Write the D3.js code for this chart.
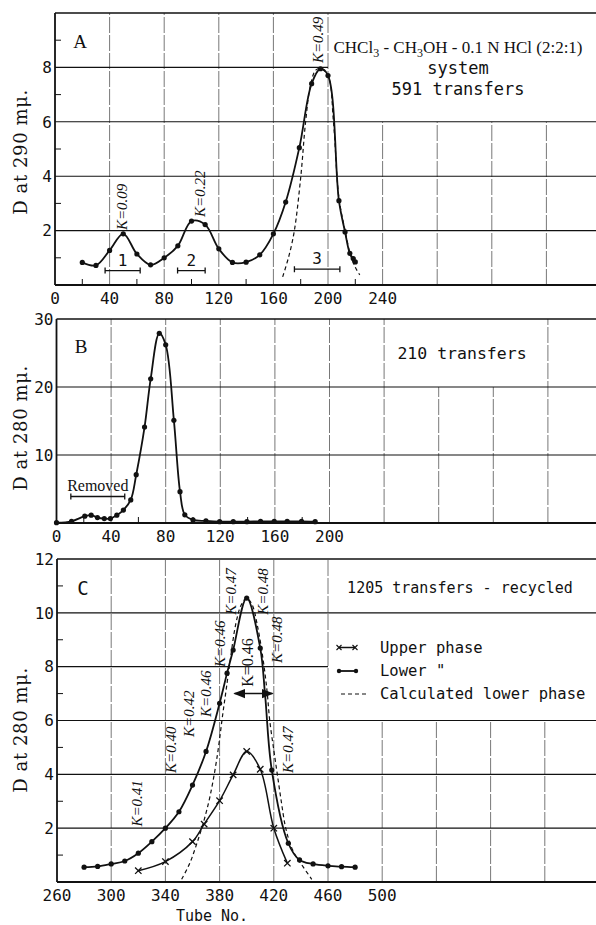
<!DOCTYPE html>
<html>
<head>
<meta charset="utf-8">
<script src="https://cdn.jsdelivr.net/npm/d3@7"></script>
<style>
body { margin: 0; background: #fff; }
text { fill: #111; }
</style>
</head>
<body>
<div id="chart"></div>
<script>
//panel A: lower phase and calculated curve [tube, D]
var aLower = [[20, 0.83], [30, 0.72], [40, 1.27], [50, 1.88], [60, 1.14], [70, 0.74], [80, 1.0], [90, 1.44],
    [100, 2.35], [110, 2.22], [120, 1.33], [130, 0.83], [140, 0.84], [150, 1.11], [160, 1.88], [169, 3.05],
    [179, 5.05], [188, 7.4], [194.5, 7.95], [200, 7.7], [208, 3.1], [212.5, 1.95], [216, 1.16], [218.5, 0.97], [220, 0.85]];
var aCalc = [[166.8, 0.3], [171, 1.0], [175.2, 1.95], [180, 3.95], [183.6, 6.0], [187.2, 7.36], [191, 7.9], [194.5, 7.95],
    [200, 7.7], [204, 6.0], [208, 3.2], [212.5, 2.0], [216.5, 1.1], [220, 0.65], [223.3, 0.37]];
var aBars = [[36.7, 62.4, 0.53, '1'], [89.8, 110, 0.53, '2'], [175.4, 208.7, 0.58, '3']];
var aKLabels = [[48.9, 2.02, 'K=0.09'], [106.2, 2.5, 'K=0.22'], [192.7, 8.16, 'K=0.49']];
var aXTicks = [0, 40, 80, 120, 160, 200, 240];
var aYTicks = [2, 4, 6, 8];

//panel B
var bLower = [[0, 0.05], [11, 0.25], [20.7, 1.0], [25.4, 1.15], [30, 0.8], [35, 0.65], [39.5, 0.65], [44.2, 1.15],
    [49, 1.9], [54.4, 3.4], [58.4, 7.1], [64.5, 14.1], [69, 21.2], [75.3, 27.9], [80, 26.2], [86, 15.1],
    [90.5, 4.6], [94, 1.2], [100, 0.45], [109.5, 0.3], [119.5, 0.2], [129.5, 0.2], [139.5, 0.2], [149.5, 0.25],
    [159.5, 0.25], [169, 0.25], [179.5, 0.25], [189.5, 0.2]];
var bRemoved = [10.5, 50, 3.9, 'Removed'];
var bXTicks = [0, 40, 80, 120, 160, 200];
var bYTicks = [10, 20, 30];

//panel C
var cLower = [[280, 0.55], [290, 0.58], [300, 0.67], [310, 0.78], [320, 1.07], [330, 1.5], [340, 2.0], [350, 2.61],
    [360, 3.6], [370, 4.85], [380, 6.64], [385.5, 7.76], [390, 8.62], [400, 10.55], [410, 8.69], [413.5, 7.0],
    [418.5, 4.16], [430.7, 1.44], [439, 0.82], [449, 0.67], [460, 0.6], [470, 0.57], [480, 0.55]];
var cUpper = [[320, 0.42], [340, 0.76], [360, 1.5], [368.6, 2.15], [380, 3.02], [390, 3.98], [400, 4.85],
    [410, 4.19], [420, 2.0], [430, 0.7]];
var cCalc = [[352, 0.1], [358, 0.7], [363, 1.4], [368, 2.2], [373, 3.2], [378, 4.6], [382.5, 6.3], [385, 7.2],
    [388, 8.3], [392, 9.6], [396, 10.3], [400, 10.55], [404, 10.3], [408, 9.5], [412, 8.3], [415, 7.1], [417, 6.0],
    [420, 4.9], [422.6, 4.0], [425.5, 3.0], [428.8, 2.0], [433, 1.3], [437, 0.9], [441.8, 0.55], [448, 0.1]];
var cKLabels = [[318.8, 2.06, 'K=0.41'], [343.9, 4.05, 'K=0.40'], [357.4, 5.39, 'K=0.42'], [370, 6.13, 'K=0.46'],
    [380.3, 7.99, 'K=0.46'], [388.4, 9.93, 'K=0.47'], [412.3, 9.93, 'K=0.48'], [422.6, 8.14, 'K=0.48'], [430.5, 4.05, 'K=0.47']];
var cArrow = [391, 419, 7.0, 401.2, 'K=0.46'];
var cLegend = ['Upper phase', 'Lower   "', 'Calculated lower phase'];
var cXTicks = [260, 300, 340, 380, 420, 460, 500];
var cYTicks = [2, 4, 6, 8, 10, 12];

var mono = '"DejaVu Sans Mono", "Liberation Mono", monospace',
    serif = '"Liberation Serif", "DejaVu Serif", serif';

//create svg
var svg = d3.select('#chart').append('svg')
    .attr('width', 596)
    .attr('height', 925)
    .style('display', 'block');

svg.append('rect').attr('width', 596).attr('height', 925).attr('fill', '#fff');

//arrow markers
var defs = svg.append('defs');
defs.append('marker').attr('id', 'arrowEnd')
    .attr('viewBox', '0 0 10 10').attr('refX', 9).attr('refY', 5)
    .attr('markerWidth', 8).attr('markerHeight', 8).attr('orient', 'auto')
    .append('path').attr('d', 'M0,1 L10,5 L0,9 Z').attr('fill', '#111');
defs.append('marker').attr('id', 'arrowStart')
    .attr('viewBox', '0 0 10 10').attr('refX', 1).attr('refY', 5)
    .attr('markerWidth', 8).attr('markerHeight', 8).attr('orient', 'auto')
    .append('path').attr('d', 'M10,1 L0,5 L10,9 Z').attr('fill', '#111');

//draws a panel frame with its grid, ticks and labels
function drawPanel(p) {
    var x = d3.scaleLinear().domain(p.xDomain).range([p.left, p.right]),
        y = d3.scaleLinear().domain(p.yDomain).range([p.bottom, p.top]),
        g = svg.append('g'),
        box = p.box;

    //vertical grid lines
    d3.range(p.xDomain[0] + p.xStep, p.xDomain[1] + 0.1, p.xStep).forEach(function (t) {
        var topValue = p.yDomain[1];
        if (box && t > box.x0 && t < box.x1) topValue = box.y0;
        g.append('line')
            .attr('x1', x(t)).attr('x2', x(t))
            .attr('y1', y(p.yDomain[0])).attr('y2', y(topValue))
            .attr('stroke', '#555').attr('stroke-width', 0.8)
            .attr('stroke-dasharray', '16,2');
    });

    //horizontal grid lines
    p.yTicks.forEach(function (v) {
        var endX = p.right;
        if (box && box.cutH.indexOf(v) > -1) endX = x(box.x0);
        g.append('line')
            .attr('x1', p.left).attr('x2', endX)
            .attr('y1', y(v)).attr('y2', y(v))
            .attr('stroke', '#111').attr('stroke-width', v === p.yDomain[1] ? 1.6 : 1.1);
    });

    //minor ticks on y axis
    p.yMinor.forEach(function (v) {
        g.append('line')
            .attr('x1', p.left).attr('x2', p.left + 6)
            .attr('y1', y(v)).attr('y2', y(v))
            .attr('stroke', '#111').attr('stroke-width', 1);
    });

    //minor ticks on x axis
    p.xMinor.forEach(function (t) {
        g.append('line')
            .attr('x1', x(t)).attr('x2', x(t))
            .attr('y1', p.bottom).attr('y2', p.bottom - 6)
            .attr('stroke', '#111').attr('stroke-width', 1);
    });

    //axes
    g.append('line').attr('x1', p.left).attr('x2', p.left)
        .attr('y1', p.top).attr('y2', p.bottom)
        .attr('stroke', '#111').attr('stroke-width', 1.8);
    g.append('line').attr('x1', p.left).attr('x2', p.right)
        .attr('y1', p.bottom).attr('y2', p.bottom)
        .attr('stroke', '#111').attr('stroke-width', 1.8);

    //tick labels
    g.selectAll('text.xt').data(p.xTicks).enter().append('text')
        .attr('class', 'xt')
        .attr('x', function (d) { return x(d); })
        .attr('y', p.bottom + p.xLabelGap)
        .attr('text-anchor', 'middle')
        .attr('font-family', mono).attr('font-size', 16)
        .text(function (d) { return d; });
    g.selectAll('text.yt').data(p.yTicks).enter().append('text')
        .attr('class', 'yt')
        .attr('x', p.left - 3)
        .attr('y', function (d) { return y(d); })
        .attr('dy', '0.36em')
        .attr('text-anchor', 'end')
        .attr('font-family', mono).attr('font-size', 16)
        .text(function (d) { return d; });

    //y axis title
    g.append('text')
        .attr('transform', 'translate(' + 27 + ',' + p.titleY + ') rotate(-90)')
        .attr('text-anchor', 'middle')
        .attr('font-family', '"DejaVu Serif", serif').attr('font-size', 18)
        .attr('letter-spacing', 0.6)
        .text(p.yTitle);

    //panel letter
    g.append('text')
        .attr('x', p.letterX).attr('y', p.letterY)
        .attr('text-anchor', 'middle')
        .attr('font-family', p.letterFont).attr('font-size', 19)
        .text(p.letter);

    return { g: g, x: x, y: y };
}

//draws a smooth curve
function drawCurve(panel, data, width, dash) {
    var line = d3.line()
        .x(function (d) { return panel.x(d[0]); })
        .y(function (d) { return panel.y(d[1]); })
        .curve(d3.curveCatmullRom.alpha(0.5));
    panel.g.append('path')
        .datum(data)
        .attr('d', line)
        .attr('fill', 'none')
        .attr('stroke', '#111')
        .attr('stroke-width', width)
        .attr('stroke-dasharray', dash || null);
}

//draws dot markers
function drawDots(panel, data) {
    panel.g.selectAll(null).data(data).enter().append('circle')
        .attr('cx', function (d) { return panel.x(d[0]); })
        .attr('cy', function (d) { return panel.y(d[1]); })
        .attr('r', 2.6)
        .attr('fill', '#111');
}

//draws cross markers
function drawCrosses(panel, data) {
    panel.g.selectAll(null).data(data).enter().append('path')
        .attr('d', function (d) {
            var cx = panel.x(d[0]), cy = panel.y(d[1]), s = 3.2;
            return 'M' + (cx - s) + ',' + (cy - s) + 'L' + (cx + s) + ',' + (cy + s) +
                'M' + (cx - s) + ',' + (cy + s) + 'L' + (cx + s) + ',' + (cy - s);
        })
        .attr('stroke', '#111').attr('stroke-width', 1.3);
}

//draws rotated K labels
function drawKLabels(panel, labels, italic, size) {
    panel.g.selectAll(null).data(labels).enter().append('text')
        .attr('transform', function (d) {
            return 'translate(' + (panel.x(d[0]) + 5) + ',' + panel.y(d[1]) + ') rotate(-90)';
        })
        .attr('font-family', serif)
        .attr('font-style', italic ? 'italic' : 'normal')
        .attr('font-size', size)
        .text(function (d) { return d[2]; });
}

//draws a range bar with end ticks and its label
function drawBar(panel, bar, font, size) {
    var x0 = panel.x(bar[0]), x1 = panel.x(bar[1]), yy = panel.y(bar[2]);
    panel.g.append('path')
        .attr('d', 'M' + x0 + ',' + yy + 'H' + x1 + 'M' + x0 + ',' + (yy - 3) + 'V' + (yy + 3) +
            'M' + x1 + ',' + (yy - 3) + 'V' + (yy + 3))
        .attr('stroke', '#111').attr('stroke-width', 1.3).attr('fill', 'none');
    panel.g.append('text')
        .attr('x', (x0 + x1) / 2).attr('y', yy - 5)
        .attr('text-anchor', 'middle')
        .attr('font-family', font).attr('font-size', size)
        .text(bar[3]);
}

//panel A
var pa = drawPanel({
    xDomain: [0, 400], yDomain: [0, 10], left: 55, right: 601, top: 13, bottom: 285,
    xStep: 40, xTicks: aXTicks, yTicks: aYTicks.concat([10]),
    yMinor: [1, 3, 5, 7, 9], xMinor: [20, 60, 100, 140, 180, 220],
    box: { x0: 200, x1: 1000, y0: 6, cutH: [8] },
    xLabelGap: 19, titleY: 152, yTitle: 'D at 290 mμ.',
    letter: 'A', letterX: 80, letterY: 48, letterFont: serif
});
pa.g.selectAll('text.yt').filter(function (d) { return d === 10; }).remove();
drawCurve(pa, aCalc, 1.2, '4,3');
drawCurve(pa, aLower, 1.8);
drawDots(pa, aLower);
drawKLabels(pa, aKLabels, true, 15);
aBars.forEach(function (b) { drawBar(pa, b, mono, 16); });

//panel A description
var aTitle = pa.g.append('text')
    .attr('x', 458).attr('y', 53)
    .attr('text-anchor', 'middle')
    .attr('font-family', serif).attr('font-size', 17);
aTitle.append('tspan').text('CHCl');
aTitle.append('tspan').attr('dy', 4).attr('font-size', 12).text('3');
aTitle.append('tspan').attr('dy', -4).text(' - CH');
aTitle.append('tspan').attr('dy', 4).attr('font-size', 12).text('3');
aTitle.append('tspan').attr('dy', -4).text('OH - 0.1 N HCl (2:2:1)');
pa.g.append('text').attr('x', 458).attr('y', 74).attr('text-anchor', 'middle')
    .attr('font-family', mono).attr('font-size', 17).text('system');
pa.g.append('text').attr('x', 458).attr('y', 95).attr('text-anchor', 'middle')
    .attr('font-family', mono).attr('font-size', 17).text('591 transfers');

//panel B
var pb = drawPanel({
    xDomain: [0, 400], yDomain: [0, 30], left: 56.5, right: 602.5, top: 319, bottom: 523,
    xStep: 40, xTicks: bXTicks, yTicks: bYTicks,
    yMinor: [], xMinor: [20, 60, 100, 140, 180],
    box: { x0: 240, x1: 360, y0: 20, cutH: [] },
    xLabelGap: 19, titleY: 428, yTitle: 'D at 280 mμ.',
    letter: 'B', letterX: 81, letterY: 353, letterFont: serif
});
drawCurve(pb, bLower, 1.8);
drawDots(pb, bLower);
drawBar(pb, bRemoved, serif, 16);
pb.g.append('text').attr('x', 462).attr('y', 359).attr('text-anchor', 'middle')
    .attr('font-family', mono).attr('font-size', 16.5).text('210 transfers');

//panel C
var pc = drawPanel({
    xDomain: [260, 660], yDomain: [0, 12], left: 57, right: 599, top: 559, bottom: 882,
    xStep: 40, xTicks: cXTicks, yTicks: cYTicks,
    yMinor: [1, 3, 5, 7, 9, 11], xMinor: [],
    box: { x0: 460, x1: 1000, y0: 6, cutH: [8] },
    xLabelGap: 19, titleY: 730, yTitle: 'D at 280 mμ.',
    letter: 'C', letterX: 83, letterY: 595, letterFont: mono
});
drawCurve(pc, cCalc, 1.2, '4,3');
drawCurve(pc, cUpper, 1.5);
drawCrosses(pc, cUpper);
drawCurve(pc, cLower, 1.8);
drawDots(pc, cLower);
drawKLabels(pc, cKLabels, true, 15);
drawKLabels(pc, [[cArrow[3], cArrow[2] + 0.25, cArrow[4]]], false, 16);

//double headed arrow
pc.g.append('line')
    .attr('x1', pc.x(cArrow[0])).attr('x2', pc.x(cArrow[1]))
    .attr('y1', pc.y(cArrow[2])).attr('y2', pc.y(cArrow[2]))
    .attr('stroke', '#111').attr('stroke-width', 1.5)
    .attr('marker-start', 'url(#arrowStart)').attr('marker-end', 'url(#arrowEnd)');

//panel C description and legend
pc.g.append('text').attr('x', 460).attr('y', 593).attr('text-anchor', 'middle')
    .attr('font-family', mono).attr('font-size', 15).text('1205 transfers - recycled');

var legendY = [647.5, 671, 694];
cLegend.forEach(function (label, i) {
    var ly = legendY[i];
    if (i === 0) {
        pc.g.append('line').attr('x1', 339).attr('x2', 355).attr('y1', ly).attr('y2', ly)
            .attr('stroke', '#111').attr('stroke-width', 1.5);
        [339, 355].forEach(function (lx) {
            pc.g.append('path')
                .attr('d', 'M' + (lx - 2.5) + ',' + (ly - 2.5) + 'L' + (lx + 2.5) + ',' + (ly + 2.5) +
                    'M' + (lx - 2.5) + ',' + (ly + 2.5) + 'L' + (lx + 2.5) + ',' + (ly - 2.5))
                .attr('stroke', '#111').attr('stroke-width', 1.1);
        });
    } else if (i === 1) {
        pc.g.append('line').attr('x1', 339).attr('x2', 356).attr('y1', ly).attr('y2', ly)
            .attr('stroke', '#111').attr('stroke-width', 1.8);
        [339, 356].forEach(function (lx) {
            pc.g.append('circle').attr('cx', lx).attr('cy', ly).attr('r', 2.2).attr('fill', '#111');
        });
    } else {
        pc.g.append('line').attr('x1', 341).attr('x2', 369).attr('y1', ly).attr('y2', ly)
            .attr('stroke', '#111').attr('stroke-width', 1.2).attr('stroke-dasharray', '4,3');
    }
    pc.g.append('text').attr('x', 380).attr('y', ly).attr('dy', '0.35em')
        .attr('font-family', mono).attr('font-size', 15.5).text(label);
});

//x axis title
pc.g.append('text').attr('x', 212).attr('y', 921).attr('text-anchor', 'middle')
    .attr('font-family', mono).attr('font-size', 15).text('Tube No.');
</script>
</body>
</html>
